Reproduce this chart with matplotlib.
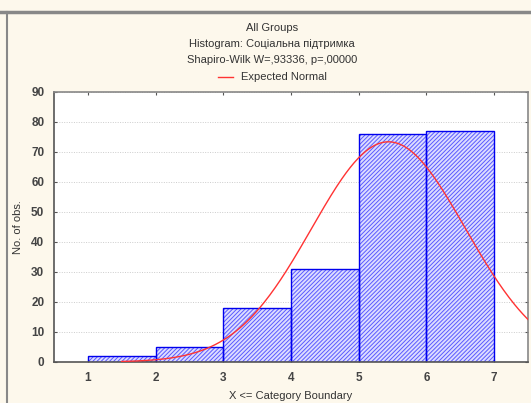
import numpy as np
import matplotlib.pyplot as plt
from matplotlib.lines import Line2D

plt.rcParams['font.family'] = ['Liberation Sans', 'DejaVu Sans']
plt.rcParams['hatch.linewidth'] = 0.7

# histogram data (category boundaries and counts)
bin_left = [1, 2, 3, 4, 5, 6]
counts = [2, 5, 18, 31, 76, 77]
bin_width = 1.0

# fitted normal (peak near 5.44, height ~73.4)
mu = 5.44
sigma = 1.136
curve_start = 1.5
curve_end = 7.5

x_ticks = [1, 2, 3, 4, 5, 6, 7]
y_ticks = [0, 10, 20, 30, 40, 50, 60, 70, 80, 90]

bg = '#fdf8ec'
txt = '#333333'

fig = plt.figure(figsize=(5.31, 4.03), dpi=100, facecolor=bg)
ax = fig.add_axes([54/531, 41/403, 474/531, 270/403])
ax.set_facecolor('white')

# hatched fill, then the outline on top
ax.bar(bin_left, counts, width=bin_width, align='edge', facecolor='#dcdcff',
       edgecolor='#5a5aff', hatch='////////', linewidth=0, zorder=2)
ax.bar(bin_left, counts, width=bin_width, align='edge', fill=False,
       edgecolor='#0000ee', linewidth=1.0, zorder=2)

n = sum(counts)
xs = np.linspace(curve_start, curve_end, 300)
ys = n * bin_width / (sigma * np.sqrt(2 * np.pi)) * np.exp(-(xs - mu) ** 2 / (2 * sigma ** 2))
ax.plot(xs, ys, color='#ff3333', lw=1.0, zorder=3)

ax.set_xlim(0.5, 7.5)
ax.set_ylim(0, 90)
ax.set_xticks(x_ticks)
ax.set_yticks(y_ticks)
ax.yaxis.grid(True, linestyle=(0, (1, 1.5)), color='#cccccc', lw=0.7, zorder=0)
ax.set_axisbelow(True)
ax.tick_params(direction='in', length=2.5, width=0.8, colors='#555555',
               labelcolor='#444444', labelsize=8.5, top=True, right=True, pad=7)
for lab in ax.get_xticklabels() + ax.get_yticklabels():
    lab.set_fontweight('bold')
for s in ['left', 'bottom']:
    ax.spines[s].set_color('#555555')
    ax.spines[s].set_linewidth(1.2)
for s in ['top', 'right']:
    ax.spines[s].set_color('#888888')
    ax.spines[s].set_linewidth(1.2)

ax.set_xlabel('X <= Category Boundary', fontsize=8, color=txt, labelpad=5)
ax.set_ylabel('No. of obs.', fontsize=8, color=txt, labelpad=6)

cx = 272 / 531
fig.text(cx, 1 - 28/403, 'All Groups', ha='center', va='center', fontsize=8, color=txt)
fig.text(cx, 1 - 44/403, 'Histogram: Соціальна підтримка', ha='center', va='center', fontsize=8, color=txt)
fig.text(cx, 1 - 60/403, 'Shapiro-Wilk W=,93336, p=,00000', ha='center', va='center', fontsize=8, color=txt)
fig.add_artist(Line2D([218/531, 233/531], [1 - 77/403, 1 - 77/403], color='#ff3333', lw=1.0))
fig.text(241/531, 1 - 77/403, 'Expected Normal', ha='left', va='center', fontsize=8, color=txt)

# window frame
fig.add_artist(Line2D([0, 1], [1 - 12/403, 1 - 12/403], color='#888888', lw=2.5))
fig.add_artist(Line2D([7/531, 7/531], [0, 1 - 12/403], color='#888888', lw=1.5))

fig.savefig('out.png', dpi=100, facecolor=bg)
